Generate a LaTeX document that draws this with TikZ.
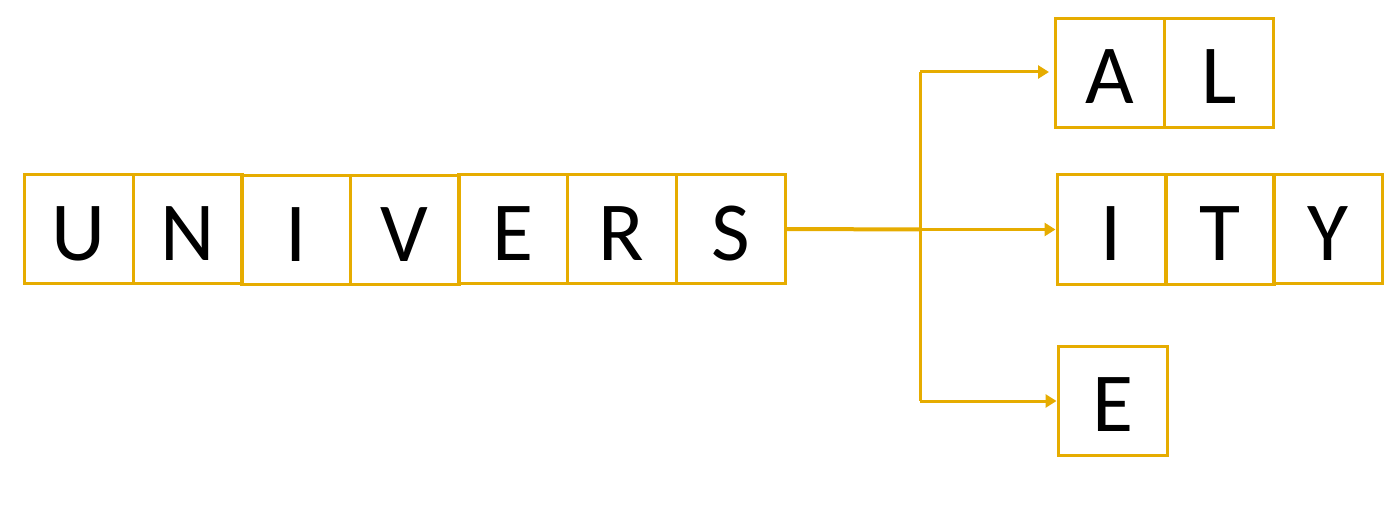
\documentclass[tikz,border=0pt]{standalone}
\usepackage{fontspec}
\setmainfont{Carlito}
\usetikzlibrary{arrows.meta}
\definecolor{gold}{HTML}{E6AC00}
\tikzset{
  letter/.style={draw=gold, line width=3pt, minimum width=109pt, minimum height=109pt,
    inner sep=0pt, text height=62pt, text depth=0pt, font=\fontsize{84}{84}\selectfont},
  link/.style={draw=gold, line width=3pt, -{Triangle[length=11pt,width=13pt]}},
  trunk/.style={draw=gold, line width=3pt}
}
\begin{document}
\begin{tikzpicture}[x=1pt,y=-1pt]
\useasboundingbox (0,0) rectangle (1400,505);
\node[letter] (u1) at (78.5,229) {U};
\node[letter] (u2) at (187.5,229) {N};
\node[letter] (u3) at (296,230) {I};
\node[letter] (u4) at (404.5,230) {V};
\node[letter] (u5) at (513,229) {E};
\node[letter] (u6) at (621.5,229) {R};
\node[letter] (u7) at (731,229) {S};
\node[letter] (a1) at (1110,73) {A};
\node[letter] (a2) at (1219,73) {L};
\node[letter] (b1) at (1111.5,229.5) {I};
\node[letter] (b2) at (1220,229.5) {T};
\node[letter] (b3) at (1328,229) {Y};
\node[letter] (c1) at (1112.5,400.5) {E};
\coordinate (j) at (920,229.5);
\coordinate (jt) at (920,72);
\coordinate (jb) at (920,401);
\draw[trunk, line width=4pt] (u7.east) -- (j);
\draw[trunk] (jt) -- (jb);
\draw[link] (jt) -- (a1.west |- jt) [shorten >=5pt];
\draw[link] (j) -- (b1.west);
\draw[link] (jb) -- (c1.west |- jb);
\end{tikzpicture}
\end{document}
